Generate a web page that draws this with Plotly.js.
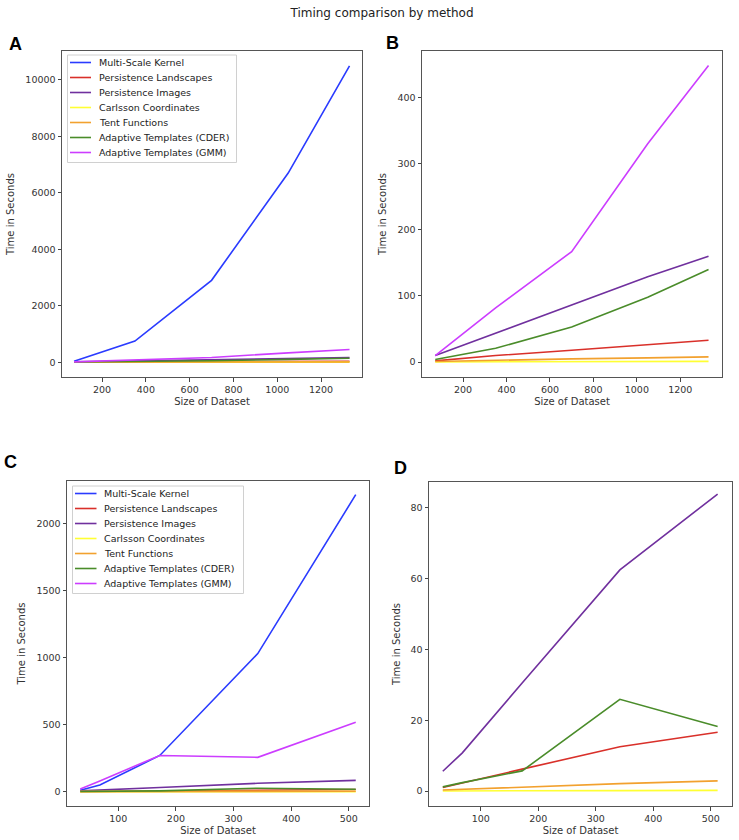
<!DOCTYPE html>
<html><head><meta charset="utf-8">
<script src="https://cdn.plot.ly/plotly-3.0.1.min.js"></script>
<style>html,body{margin:0;padding:0;background:#fff}</style>
</head><body><div id="chart" style="width:739px;height:840px"></div>
<script>
// ---- data ----
const seriesNames = ["Multi-Scale Kernel","Persistence Landscapes","Persistence Images","Carlsson Coordinates","Tent Functions","Adaptive Templates (CDER)","Adaptive Templates (GMM)"];
const seriesColors = ["#2a3bff","#d9302a","#70309e","#ffff33","#f2a12e","#4a8c2a","#cc3dff"];

// Panels A and B
const sizesAB = [72, 350, 700, 1050, 1330];
const kernelAB = [30, 750, 2900, 6700, 10500];
const landscapesAB = [2, 10, 18, 26, 33];
const imagesAB = [10, 44, 87, 129, 160];
const carlssonAB = [0.3, 0.5, 0.8, 1.0, 1.2];
const tentAB = [1, 3, 5, 6.5, 8];
const cderAB = [4, 21, 53, 98, 140];
const gmmAB = [10, 82, 167, 330, 448];

// Panels C and D
const sizesCD = [34, 68, 172, 342, 512];
const kernelCD = [10, 50, 270, 1030, 2215];
const landscapesCD = [1.0, 2.3, 6.2, 12.5, 16.6];
const imagesCD = [5.6, 10.8, 30.5, 62.4, 83.8];
const carlssonCD = [0.05, 0.08, 0.1, 0.15, 0.2];
const tentCD = [0.3, 0.5, 1.1, 2.1, 2.9];
const cderCD = [1.2, 2.4, 5.7, 25.9, 18.2];
const gmmCD = [20, 80, 270, 256, 517];

const W = 739, H = 840;
const xp = px => px / W;
const yp = py => 1 - py / H;

const setAB = [kernelAB, landscapesAB, imagesAB, carlssonAB, tentAB, cderAB, gmmAB];
const setCD = [kernelCD, landscapesCD, imagesCD, carlssonCD, tentCD, cderCD, gmmCD];

const traces = [];
function addPanel(xs, set, xa, ya, skip) {
  set.forEach((ys, i) => {
    if (skip.indexOf(i) >= 0) return;
    traces.push({
      type: 'scatter', mode: 'lines', x: xs, y: ys,
      xaxis: xa, yaxis: ya, name: seriesNames[i], showlegend: false,
      line: {color: seriesColors[i], width: 1.6}
    });
  });
}
addPanel(sizesAB, setAB, 'x', 'y', []);
addPanel(sizesAB, setAB, 'x2', 'y2', [0]);
addPanel(sizesCD, setCD, 'x3', 'y3', []);
addPanel(sizesCD, setCD, 'x4', 'y4', [0, 6]);

const FONT = 'DejaVu Sans, sans-serif';
function xAxis(dom, range, dtick, tick0, anchor) {
  return {
    domain: [xp(dom[0]), xp(dom[1])], range: range, anchor: anchor,
    tick0: tick0, dtick: dtick, tickformat: 'd', ticks: 'outside', ticklen: 3.5, tickwidth: 1, tickcolor: '#444',
    showline: true, mirror: true, linecolor: '#555', linewidth: 1,
    showgrid: false, zeroline: false,
    tickfont: {family: FONT, size: 9.5, color: '#333'},
    title: {text: 'Size of Dataset', font: {family: FONT, size: 10, color: '#333'}, standoff: 4}
  };
}
function yAxis(dom, range, dtick, anchor, standoff) {
  return {
    domain: [yp(dom[1]), yp(dom[0])], range: range, anchor: anchor,
    tick0: 0, dtick: dtick, tickformat: 'd', ticks: 'outside', ticklen: 3.5, tickwidth: 1, tickcolor: '#444',
    showline: true, mirror: true, linecolor: '#555', linewidth: 1,
    showgrid: false, zeroline: false,
    tickfont: {family: FONT, size: 9.5, color: '#333'},
    title: {text: 'Time in Seconds', font: {family: FONT, size: 10, color: '#333'}, standoff: standoff}
  };
}

const shapes = [];
const annotations = [];

// panel letters
[['A', 15, 44], ['B', 392, 43], ['C', 10, 462], ['D', 400, 468]].forEach(p => {
  annotations.push({text: '<b>' + p[0] + '</b>', xref: 'paper', yref: 'paper',
    x: xp(p[1]), y: yp(p[2]), xanchor: 'center', yanchor: 'middle', showarrow: false,
    font: {family: 'Liberation Sans, Arial, sans-serif', size: 18, color: '#000'}});
});

// legends drawn as boxes with sample lines and text
function legendBox(left, top, right, bottom, lineX0, lineX1, textX, row0, step) {
  shapes.push({type: 'rect', xref: 'paper', yref: 'paper',
    x0: xp(left), x1: xp(right), y0: yp(bottom), y1: yp(top),
    line: {color: '#d0d0d0', width: 1}, fillcolor: 'rgba(255,255,255,0.85)', layer: 'above'});
  seriesNames.forEach((nm, i) => {
    const yy = row0 + i * step;
    shapes.push({type: 'line', xref: 'paper', yref: 'paper',
      x0: xp(lineX0), x1: xp(lineX1), y0: yp(yy), y1: yp(yy),
      line: {color: seriesColors[i], width: 1.6}, layer: 'above'});
    annotations.push({text: nm, xref: 'paper', yref: 'paper', x: xp(textX), y: yp(yy),
      xanchor: 'left', yanchor: 'middle', showarrow: false,
      font: {family: FONT, size: 9.5, color: '#222'}});
  });
}
legendBox(67.5, 55, 236.5, 162.5, 70, 91, 97, 62.5, 15);
legendBox(72.5, 486, 243.5, 593.5, 75, 96.5, 102, 493.5, 15);

const layout = {
  width: W, height: H, margin: {l: 0, r: 0, t: 0, b: 0},
  paper_bgcolor: '#fff', plot_bgcolor: '#fff', showlegend: false,
  title: {text: 'Timing comparison by method', xref: 'container', yref: 'container',
    x: 382 / W, xanchor: 'center', y: 1 - 13 / H, yanchor: 'middle',
    font: {family: FONT, size: 12, color: '#222'}},
  xaxis: xAxis([62, 362], [17, 1387], 200, 0, 'y'),
  yaxis: yAxis([51, 377], [-525, 11025], 2000, 'x', 8),
  xaxis2: xAxis([422, 722], [11, 1392], 200, 0, 'y2'),
  yaxis2: yAxis([51, 377], [-22.4, 470], 100, 'x2', 8),
  xaxis3: xAxis([67, 369], [11, 535], 100, 0, 'y3'),
  yaxis3: yAxis([481, 806], [-107, 2317], 500, 'x3', 8),
  xaxis4: xAxis([429, 732], [10, 537], 100, 0, 'y4'),
  yaxis4: yAxis([482, 806], [-4.2, 87.2], 20, 'x4', 8),
  shapes: shapes, annotations: annotations
};

Plotly.newPlot('chart', traces, layout, {displayModeBar: false, staticPlot: true});
</script></body></html>
